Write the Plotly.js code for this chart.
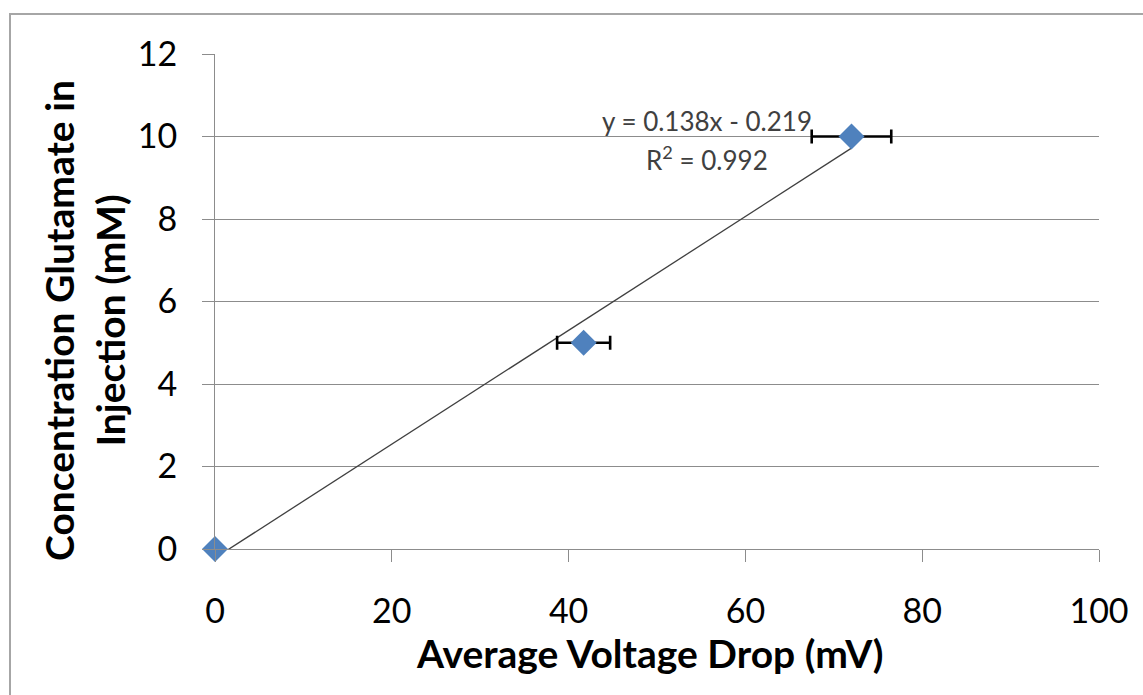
<!DOCTYPE html>
<html>
<head>
<meta charset="utf-8">
<script src="https://cdn.plot.ly/plotly-3.0.1.min.js"></script>
<style>
  html, body { margin: 0; padding: 0; background: #fff; overflow: hidden; }
  #wrap { position: relative; width: 1143px; height: 695px; }
  #chart { position: absolute; left: 0; top: 0; width: 1143px; height: 695px; }
  #frame { position: absolute; left: 9px; top: 13px; width: 1200px; height: 800px;
           border: 2px solid #a6a6a6; pointer-events: none; }
</style>
</head>
<body>
<div id="wrap">
  <div id="chart"></div>
  <div id="frame"></div>
</div>
<script>
// Data
const voltageDrop = [0, 41.7, 72];          // mV
const concentration = [0, 5, 10];           // mM
const voltageError = [0, 3, 4.5];           // mV (horizontal error bars)
const trendX = [0, 72];
const trendY = [-0.219, 9.717];             // y = 0.138x - 0.219
const xTicks = [0, 20, 40, 60, 80, 100];
const yTicks = [0, 2, 4, 6, 8, 10, 12];
const equationText = 'y = 0.138x - 0.219';
const r2Text = 'R<sup>2</sup> = 0.992';
const xTitle = 'Average Voltage Drop (mV)';
const yTitle = 'Concentration Glutamate in<br>Injection (mM)';

const FONT = 'Lato, "Open Sans", sans-serif';

const traces = [
  {
    x: trendX, y: trendY, type: 'scatter', mode: 'lines',
    line: { color: '#404040', width: 1.3 },
    hoverinfo: 'skip', showlegend: false
  },
  {
    x: voltageDrop, y: concentration, type: 'scatter', mode: 'markers',
    marker: { symbol: 'diamond', size: 20, color: '#4F81BD' },
    error_x: { type: 'data', array: voltageError, visible: true,
               color: '#000000', thickness: 2.6, width: 7 },
    cliponaxis: false, showlegend: false
  }
];

const layout = {
  width: 1143, height: 695,
  margin: { l: 215, r: 44, t: 54, b: 146 },
  paper_bgcolor: '#ffffff', plot_bgcolor: '#ffffff',
  font: { family: FONT, color: '#000000' },
  showlegend: false,
  xaxis: {
    range: [0, 100], tickvals: xTicks, ticktext: xTicks.map(String),
    showgrid: false, zeroline: false,
    showline: true, linecolor: '#8c8c8c', linewidth: 1,
    ticks: 'outside', ticklen: 12, tickcolor: '#8c8c8c', tickwidth: 1,
    ticklabelstandoff: 20,
    tickfont: { family: FONT, size: 34, color: '#000000' },
    fixedrange: true
  },
  yaxis: {
    range: [0, 12], tickvals: yTicks, ticktext: yTicks.map(String),
    showgrid: true, gridcolor: '#8c8c8c', gridwidth: 1,
    zeroline: false,
    showline: true, linecolor: '#8c8c8c', linewidth: 1,
    ticks: 'outside', ticklen: 12, tickcolor: '#8c8c8c', tickwidth: 1,
    ticklabelstandoff: 18,
    tickfont: { family: FONT, size: 34, color: '#000000' },
    fixedrange: true
  },
  annotations: [
    {
      text: equationText, xref: 'paper', yref: 'paper',
      x: (707 - 215) / 884, y: (549 - 121) / 495,
      xanchor: 'center', yanchor: 'middle', showarrow: false,
      font: { family: FONT, size: 26, color: '#404040' }
    },
    {
      text: r2Text, xref: 'paper', yref: 'paper',
      x: (707 - 215) / 884, y: (549 - 158) / 495,
      xanchor: 'center', yanchor: 'middle', showarrow: false,
      font: { family: FONT, size: 26, color: '#404040' }
    },
    {
      text: '<b>' + xTitle + '</b>', xref: 'paper', yref: 'paper',
      x: (649 - 215) / 884, y: (549 - 653) / 495,
      xanchor: 'center', yanchor: 'middle', showarrow: false,
      font: { family: FONT, size: 39, color: '#000000' }
    },
    {
      text: '<b>' + yTitle + '</b>', xref: 'paper', yref: 'paper',
      x: (85 - 215) / 884, y: (549 - 321) / 495,
      xanchor: 'center', yanchor: 'middle', showarrow: false, textangle: -90,
      font: { family: FONT, size: 39, color: '#000000' }
    }
  ]
};

Plotly.newPlot('chart', traces, layout, { displayModeBar: false, staticPlot: true });
</script>
</body>
</html>
